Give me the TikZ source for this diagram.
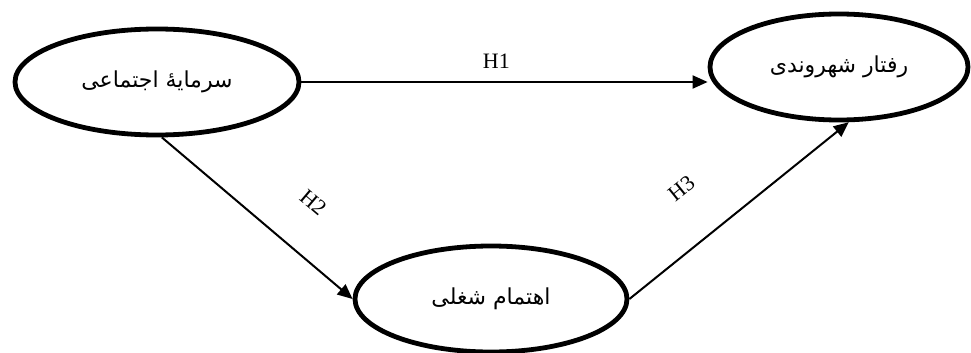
\documentclass[tikz,border=0pt]{standalone}
\usepackage{fontspec}
\setmainfont{Liberation Serif}
\newfontfamily\farsifont[Script=Arabic]{DejaVu Sans}
\TeXXeTstate=1
\usetikzlibrary{arrows.meta, shapes.geometric}

\begin{document}
\begin{tikzpicture}[x=1pt, y=-1pt,
  var/.style={draw, ellipse, line width=4.8pt, inner sep=0pt,
              font=\farsifont\fontsize{22}{26}\selectfont},
  arr/.style={-{Triangle[length=15pt, width=13pt]}, line width=2pt},
  hyp/.style={font=\fontsize{22}{26}\selectfont, inner sep=0pt}
]
  \useasboundingbox (0,0) rectangle (971,353);

  \node[var, minimum width=284pt, minimum height=106pt] (capital)  at (157, 82)  {\beginR سرمایهٔ اجتماعی\endR};
  \node[var, minimum width=258pt, minimum height=106pt] (behavior) at (839, 67)  {\beginR رفتار شهروندی\endR};
  \node[var, minimum width=272pt, minimum height=106pt] (engage)   at (491, 299) {\beginR اهتمام شغلی\endR};

  \draw[arr] (capital.east) -- node[hyp, pos=0.48, above=13pt] {H1} (capital.east -| behavior.west);
  \draw[arr] (capital.-85)  -- node[hyp, pos=0.63, sloped, above=40pt] {H2} (engage.west);
  \draw[arr] (engage.east)  -- node[hyp, pos=0.39, sloped, above=45pt] {H3} (behavior.-80);
\end{tikzpicture}
\end{document}
